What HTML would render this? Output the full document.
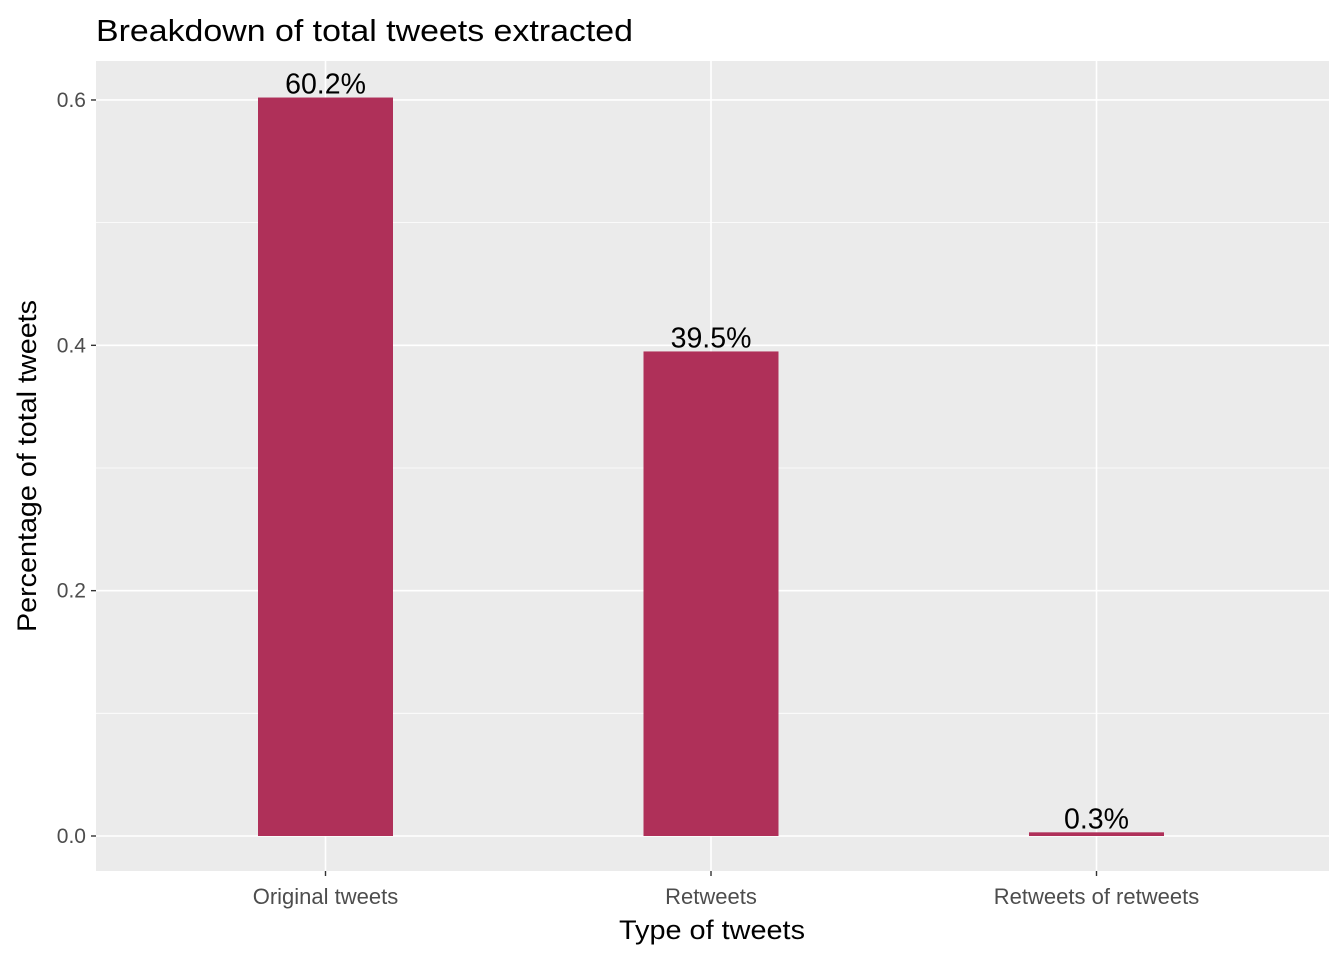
<!DOCTYPE html>
<html><head><meta charset="utf-8"><style>
body{margin:0;background:#fff;}
svg text{font-family:"Liberation Sans",Arial,sans-serif;}
</style></head><body>
<svg id="chart" width="1344" height="960">
<rect width="1344" height="960" fill="#fff"/>
<text x="96" y="41" font-size="31" fill="#000" textLength="537" lengthAdjust="spacingAndGlyphs">Breakdown of total tweets extracted</text>
<rect x="96" y="61" width="1233" height="810" fill="#EBEBEB"/>
<g id="grid"></g><g id="bars"></g><g id="axes"></g>
<text x="712" y="939" font-size="27" text-anchor="middle" textLength="186" lengthAdjust="spacingAndGlyphs">Type of tweets</text>
<text transform="translate(36,466) rotate(-90)" font-size="27" text-anchor="middle" textLength="332" lengthAdjust="spacingAndGlyphs">Percentage of total tweets</text>
</svg>
<script>
const categories=["Original tweets","Retweets","Retweets of retweets"];
const values=[0.602,0.395,0.003];
const labels=["60.2%","39.5%","0.3%"];
const yTicks=[0,0.2,0.4,0.6];
const yMinor=[0.1,0.3,0.5];
const NS="http://www.w3.org/2000/svg";
const px0=96,px1=1329,py0=871,py1=61;
const y=v=>836-v*1226.7;
const x=i=>325.5+385.5*i;
const bw=135;
function mk(tag,attrs,parent,txt){const e=document.createElementNS(NS,tag);for(const k in attrs)e.setAttribute(k,attrs[k]);if(txt!==undefined)e.textContent=txt;document.getElementById(parent).appendChild(e);return e;}
yMinor.forEach(v=>{const e=mk('line',{x1:px0,x2:px1,y1:y(v),y2:y(v),stroke:'#fff','stroke-width':0.8},'grid');

});
yTicks.forEach(v=>{const e=mk('line',{x1:px0,x2:px1,y1:y(v),y2:y(v),stroke:'#fff','stroke-width':1.6},'grid');


const t=mk('line',{x1:px0-5,x2:px0,y1:y(v),y2:y(v),stroke:'#333','stroke-width':1.4},'axes');


const l=mk('text',{x:px0-10,y:y(v)+7,'font-size':21,fill:'#4D4D4D','text-anchor':'end'},'axes',v.toFixed(1));

});
categories.forEach((c,i)=>{const g=mk('line',{x1:x(i),x2:x(i),y1:py1,y2:py0,stroke:'#fff','stroke-width':1.6},'grid');


const r=mk('rect',{x:x(i)-bw/2,y:y(values[i]),width:bw,height:y(0)-y(values[i]),fill:'#AF3059'},'bars');


const vl=mk('text',{x:x(i),y:y(values[i])-4,'font-size':28.5,'text-anchor':'middle',fill:'#000'},'bars',labels[i]);


const t=mk('line',{x1:x(i),x2:x(i),y1:py0,y2:py0+5,stroke:'#333','stroke-width':1.4},'axes');


const l=mk('text',{x:x(i),y:904,'font-size':22,fill:'#4D4D4D','text-anchor':'middle'},'axes',c);

});
</script>
</body></html>
